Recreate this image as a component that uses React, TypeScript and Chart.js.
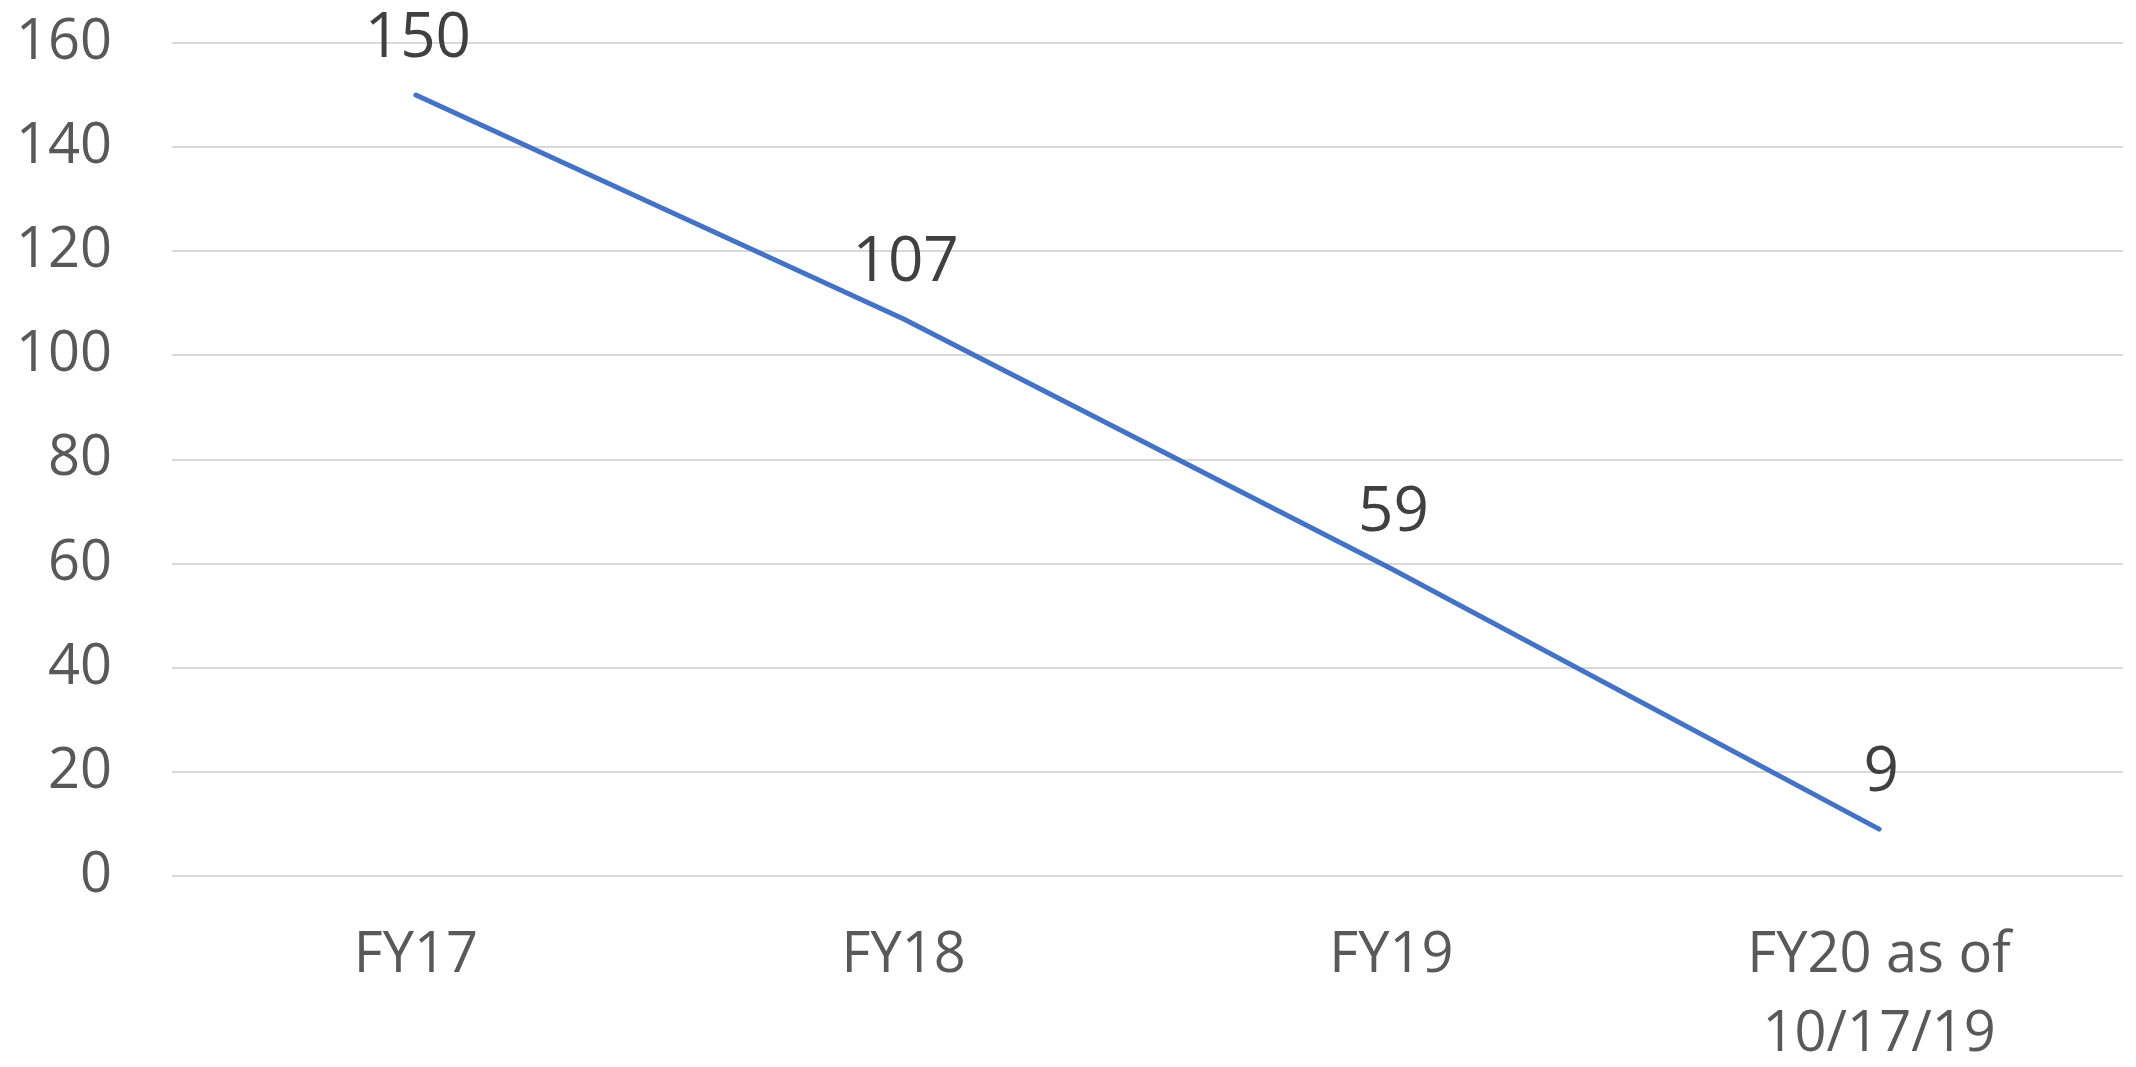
import React, { useEffect, useRef } from "react";
import { Chart, registerables } from "chart.js";

Chart.register(...registerables);

const categories: (string | string[])[] = ["FY17", "FY18", "FY19", ["FY20 as of", "10/17/19"]];
const values: number[] = [150, 107, 59, 9];
const yMin = 0;
const yMax = 160;
const yStep = 20;

const FONT = "'Open Sans', 'Liberation Sans', sans-serif";

const dataLabelPlugin = {
  id: "dataLabels",
  afterDatasetsDraw(chart: any) {
    const ctx = chart.ctx;
    const meta = chart.getDatasetMeta(0);
    ctx.save();
    ctx.font = `62px ${FONT}`;
    ctx.fillStyle = "#404040";
    ctx.textAlign = "center";
    ctx.textBaseline = "alphabetic";
    meta.data.forEach((pt: any, i: number) => {
      ctx.fillText(String(values[i]), pt.x + 2, pt.y - 38);
    });
    ctx.restore();
  },
};

export default function App() {
  const ref = useRef<HTMLCanvasElement | null>(null);
  useEffect(() => {
    if (!ref.current) return;
    const chart = new Chart(ref.current, {
      type: "line",
      data: {
        labels: categories as any,
        datasets: [
          {
            data: values,
            borderColor: "#4472C4",
            borderWidth: 5,
            borderCapStyle: "round",
            borderJoinStyle: "round",
            pointRadius: 0,
            fill: false,
            tension: 0,
          },
        ],
      },
      options: {
        animation: false,
        responsive: true,
        maintainAspectRatio: false,
        layout: { padding: { top: 43, left: 0, right: 13, bottom: 0 } },
        plugins: { legend: { display: false }, tooltip: { enabled: false } },
        scales: {
          x: {
            offset: true,
            grid: { display: false, drawTicks: false },
            border: { display: false },
            ticks: {
              color: "#595959",
              font: { family: FONT, size: 56, lineHeight: 1.4 },
              padding: 41,
              maxRotation: 0,
              autoSkip: false,
            },
            afterFit: (scale: any) => {
              scale.height = 191;
              scale.paddingLeft = 0;
              scale.paddingRight = 0;
            },
          },
          y: {
            min: yMin,
            max: yMax,
            grid: { color: "#d9d9d9", lineWidth: 2, drawTicks: false },
            border: { display: false },
            ticks: {
              stepSize: yStep,
              color: "#595959",
              font: { family: FONT, size: 56 },
              padding: 60,
            },
            afterFit: (scale: any) => {
              scale.width = 172;
              scale.paddingTop = 0;
              scale.paddingBottom = 0;
            },
          },
        },
      },
      plugins: [dataLabelPlugin],
    });
    return () => chart.destroy();
  }, []);
  return (
    <div style={{ position: "fixed", left: 0, top: 0, width: 2136, height: 1067, background: "#fff" }}>
      <canvas ref={ref} />
    </div>
  );
}
